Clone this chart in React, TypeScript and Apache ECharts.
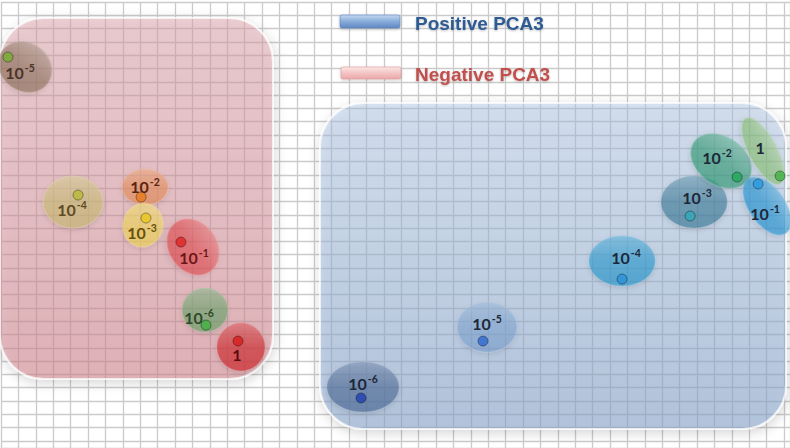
import React, { useEffect, useRef } from "react";
import * as echarts from "echarts";

// Axis extents in grid-cell units (one cell = one tick interval)
const X_MAX = 45.34;
const Y_MAX = 33.53;

// Regions (rounded boxes), in data units
const regionNames = ["Negative PCA3", "Positive PCA3"];
const regionX0 = [-0.06, 18.33];
const regionX1 = [15.63, 45.11];
const regionY0 = [1.2, 7.6];
const regionY1 = [28.35, 32.11];

// Clusters (ellipses): base and exponent of the dilution
const dilutionBase = ["10", "10", "10", "10", "10", "10", "1", "10", "10", "10", "10", "10", "1", "10"];
const dilutionExp = ["-5", "-4", "-2", "-3", "-1", "-6", "", "-6", "-5", "-4", "-3", "-2", "", "-1"];
const clusterGroup = ["Negative PCA3", "Negative PCA3", "Negative PCA3", "Negative PCA3", "Negative PCA3", "Negative PCA3", "Negative PCA3", "Positive PCA3", "Positive PCA3", "Positive PCA3", "Positive PCA3", "Positive PCA3", "Positive PCA3", "Positive PCA3"];
const centerX = [1.38, 4.14, 8.28, 8.16, 11.03, 11.72, 13.79, 20.8, 27.93, 35.69, 39.83, 41.38, 43.79, 44.02];
const centerY = [4.89, 15.04, 13.91, 16.77, 18.42, 23.16, 25.94, 28.95, 24.44, 19.47, 15.04, 11.95, 11.2, 15.34];
const spreadX = [1.61, 1.72, 1.32, 1.15, 1.72, 1.32, 1.38, 2.07, 1.72, 1.9, 1.9, 1.9, 2.13, 1.9];
const spreadY = [1.8, 1.95, 1.35, 1.65, 1.8, 1.65, 1.8, 1.88, 1.88, 1.88, 1.95, 1.8, 1.05, 1.35];
const tiltDeg = [-35, 0, 0, -15, -55, 0, 0, 0, 0, 0, 0, -35, -62, -55];
const labelX = [1.09, 4.08, 8.28, 8.1, 11.09, 11.38, 13.56, 20.8, 27.93, 35.92, 40.0, 41.15, 43.62, 43.91];
const labelY = [5.26, 15.49, 13.76, 17.29, 19.17, 23.61, 26.39, 28.57, 24.06, 19.1, 14.59, 11.65, 10.83, 15.79];

// Sample points
const pointX = [0.4, 4.43, 8.05, 8.33, 10.34, 11.78, 13.62, 20.69, 27.7, 35.69, 39.6, 42.3, 44.77, 43.51];
const pointY = [4.14, 14.51, 14.66, 16.24, 18.05, 24.29, 25.49, 29.77, 25.49, 20.83, 16.09, 13.16, 13.08, 13.68];

// Styles
const regionFill = [
  ["rgba(222,160,168,0.45)", "rgba(210,130,140,0.52)"],
  ["rgba(170,195,228,0.42)", "rgba(135,165,205,0.55)"],
];
const ellipseRGB = [
  [140, 110, 90], [200, 185, 110], [230, 137, 83], [240, 215, 80], [224, 70, 75], [100, 160, 100], [205, 45, 50],
  [70, 100, 147], [118, 158, 205], [35, 150, 205], [51, 117, 147], [40, 150, 110], [122, 188, 90], [30, 145, 210],
];
const ellipseAlpha = [0.62, 0.6, 0.6, 0.6, 0.6, 0.6, 0.7, 0.6, 0.55, 0.62, 0.6, 0.6, 0.5, 0.62];
const labelColors = ["#4a3426", "#5e4a22", "#5a2410", "#6a5008", "#6e1616", "#2e4a2a", "#5e0c0c",
  "#1c2838", "#1c2838", "#1c2838", "#1c2838", "#1c2838", "#1c2838", "#1c2838"];
const pointColors = ["#78b030", "#b8b838", "#e87a1a", "#e8c41c", "#e02424", "#40b040", "#d81c1c",
  "#2040b0", "#3068d0", "#2a90d8", "#30a8b8", "#20a858", "#40b040", "#2898e0"];

function rgba(c: number[], a: number, lift: number) {
  const m = (v: number) => Math.round(v + (255 - v) * lift);
  return `rgba(${m(c[0])},${m(c[1])},${m(c[2])},${a})`;
}

export default function App() {
  const ref = useRef<HTMLDivElement>(null);
  useEffect(() => {
    if (!ref.current) return;
    const chart = echarts.init(ref.current, null, { renderer: "svg" });

    const regionData = regionNames.map((n, i) => ({
      name: n,
      value: [regionX0[i], regionY0[i], regionX1[i], regionY1[i]],
    }));
    const clusterData = dilutionBase.map((d, i) => ({
      name: d + dilutionExp[i] + " (" + clusterGroup[i] + ")",
      value: [centerX[i], centerY[i], spreadX[i], spreadY[i], tiltDeg[i], labelX[i], labelY[i]],
    }));
    const pointData = pointX.map((x, i) => ({
      value: [x, pointY[i]],
      itemStyle: { color: pointColors[i] },
    }));

    const axisCommon = {
      type: "value",
      min: 0,
      interval: 1,
      axisLine: { show: false },
      axisTick: { show: false },
      axisLabel: { show: false },
      splitLine: { show: true, lineStyle: { color: "#cbcbcb", width: 1.3 } },
    };

    chart.setOption({
      animation: false,
      backgroundColor: "#ffffff",
      grid: { left: 1, top: 2, right: 0, bottom: 0 },
      xAxis: { ...axisCommon, max: X_MAX },
      yAxis: { ...axisCommon, max: Y_MAX, inverse: true },
      series: [
        {
          type: "custom",
          name: "regions",
          z: 1,
          clip: false,
          data: regionData,
          encode: { x: [0, 2], y: [1, 3] },
          renderItem: (params: any, api: any) => {
            const i = params.dataIndex;
            const p0 = api.coord([api.value(0), api.value(1)]);
            const p1 = api.coord([api.value(2), api.value(3)]);
            return {
              type: "rect",
              shape: { x: p0[0], y: p0[1], width: p1[0] - p0[0], height: p1[1] - p0[1], r: 44 },
              style: {
                fill: new echarts.graphic.LinearGradient(0, 0, 0, 1, [
                  { offset: 0, color: regionFill[i][0] },
                  { offset: 1, color: regionFill[i][1] },
                ]),
                stroke: "rgba(255,255,255,0.7)",
                lineWidth: 2,
                shadowBlur: 12,
                shadowColor: "rgba(0,0,0,0.28)",
                shadowOffsetX: 1,
                shadowOffsetY: 3,
              },
            };
          },
        },
        {
          type: "custom",
          name: "clusters",
          z: 2,
          clip: false,
          data: clusterData,
          encode: { x: 0, y: 1 },
          renderItem: (params: any, api: any) => {
            const i = params.dataIndex;
            const c = api.coord([api.value(0), api.value(1)]);
            const s = api.size([api.value(2), api.value(3)]);
            const l = api.coord([api.value(5), api.value(6)]);
            const rot = (api.value(4) * Math.PI) / 180;
            const col = ellipseRGB[i];
            const a = ellipseAlpha[i];
            const txt = dilutionExp[i] ? `{n|${dilutionBase[i]}}{s|${dilutionExp[i]}}` : `{n|${dilutionBase[i]}}`;
            return {
              type: "group",
              children: [
                {
                  type: "ellipse",
                  x: c[0],
                  y: c[1],
                  rotation: rot,
                  shape: { cx: 0, cy: 0, rx: s[0], ry: s[1] },
                  style: {
                    fill: new echarts.graphic.LinearGradient(0, 0, 0, 1, [
                      { offset: 0, color: rgba(col, a, 0.3) },
                      { offset: 0.5, color: rgba(col, a, 0.05) },
                      { offset: 1, color: rgba(col, a, 0) },
                    ]),
                    stroke: rgba(col, 0.35, 0.5),
                    lineWidth: 1,
                    shadowBlur: 5,
                    shadowColor: "rgba(0,0,0,0.18)",
                    shadowOffsetY: 2,
                  },
                },
                {
                  type: "text",
                  x: l[0],
                  y: l[1],
                  style: {
                    text: txt,
                    align: "center",
                    verticalAlign: "middle",
                    rich: {
                      n: {
                        fill: labelColors[i],
                        fontFamily: "Lato, sans-serif",
                        fontWeight: "bold",
                        fontSize: 16,
                        lineHeight: 18,
                        verticalAlign: "bottom",
                      },
                      s: {
                        fill: labelColors[i],
                        fontFamily: "Lato, sans-serif",
                        fontWeight: "bold",
                        fontSize: 10.5,
                        lineHeight: 11,
                        verticalAlign: "top",
                        padding: [0, 0, 0, 1],
                      },
                    },
                  },
                },
              ],
            };
          },
        },
        {
          type: "scatter",
          name: "samples",
          z: 3,
          symbolSize: 10,
          data: pointData,
          itemStyle: { borderColor: "rgba(0,0,0,0.45)", borderWidth: 1 },
        },
      ],
      graphic: [
        {
          type: "rect",
          shape: { x: 340, y: 15, width: 60, height: 13, r: 2 },
          style: {
            fill: new echarts.graphic.LinearGradient(0, 0, 0, 1, [
              { offset: 0, color: "#c4d8f0" },
              { offset: 0.45, color: "#8cb0dc" },
              { offset: 1, color: "#5d88c2" },
            ]),
            stroke: "rgba(90,130,190,0.6)",
            lineWidth: 1,
            shadowBlur: 3,
            shadowColor: "rgba(0,0,0,0.25)",
            shadowOffsetY: 1,
          },
          z: 10,
        },
        {
          type: "rect",
          shape: { x: 341, y: 67, width: 60, height: 12, r: 2 },
          style: {
            fill: new echarts.graphic.LinearGradient(0, 0, 0, 1, [
              { offset: 0, color: "#fde6e6" },
              { offset: 0.5, color: "#f4c4c4" },
              { offset: 1, color: "#eaa8aa" },
            ]),
            stroke: "rgba(220,150,150,0.6)",
            lineWidth: 1,
            shadowBlur: 3,
            shadowColor: "rgba(0,0,0,0.2)",
            shadowOffsetY: 1,
          },
          z: 10,
        },
        {
          type: "text",
          x: 415,
          y: 23,
          z: 10,
          style: {
            text: "Positive PCA3",
            fill: "#2f5b92",
            fontFamily: "'Liberation Sans', Arial, sans-serif",
            fontWeight: "bold",
            fontSize: 19,
            align: "left",
            verticalAlign: "middle",
            textShadowColor: "rgba(0,0,0,0.25)",
            textShadowBlur: 2,
            textShadowOffsetY: 1,
          },
        },
        {
          type: "text",
          x: 415,
          y: 74,
          z: 10,
          style: {
            text: "Negative PCA3",
            fill: "#c0504d",
            fontFamily: "'Liberation Sans', Arial, sans-serif",
            fontWeight: "bold",
            fontSize: 19,
            align: "left",
            verticalAlign: "middle",
            textShadowColor: "rgba(0,0,0,0.25)",
            textShadowBlur: 2,
            textShadowOffsetY: 1,
          },
        },
      ],
    });
    return () => chart.dispose();
  }, []);
  return <div ref={ref} style={{ position: "fixed", left: 0, top: 0, width: 790, height: 448 }} />;
}
